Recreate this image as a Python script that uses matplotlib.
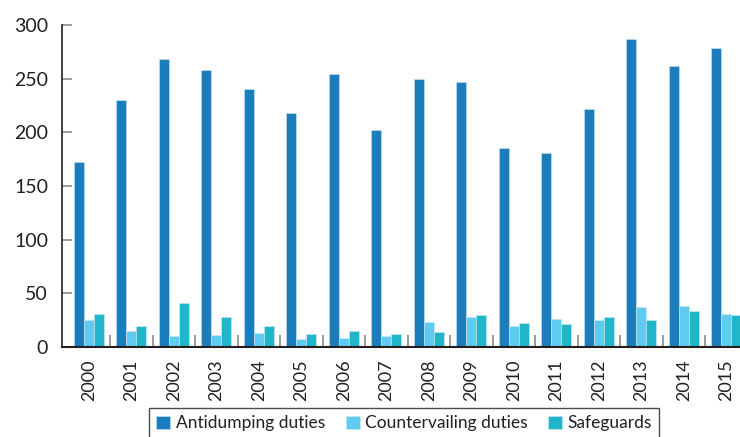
import matplotlib
matplotlib.use("Agg")
import matplotlib.pyplot as plt
import numpy as np

plt.rcParams["font.family"] = ["Lato", "DejaVu Sans"]

years = [str(y) for y in range(2000, 2016)]
antidumping = [172, 230, 268, 258, 240, 218, 254, 202,
               250, 247, 185, 181, 222, 287, 262, 279]
countervailing = [25, 15, 10, 11, 13, 7, 8, 10,
                  23, 28, 20, 26, 25, 37, 38, 31]
safeguards = [31, 20, 41, 28, 20, 12, 15, 12,
              14, 30, 22, 21, 28, 25, 34, 30]

series = [("Antidumping duties", antidumping, "#1b7dbb"),
          ("Countervailing duties", countervailing, "#5fcbf1"),
          ("Safeguards", safeguards, "#1fb6c9")]

fig = plt.figure(figsize=(7.4, 4.37), dpi=100)
ax = fig.add_axes([62 / 740, 90 / 437, 678 / 740, 322 / 437])

x = np.arange(len(years))
w = 0.235
for k, (label, vals, col) in enumerate(series):
    ax.bar(x + (k - 1) * w, vals, w, color=col, label=label,
           edgecolor="#cfe6f3", linewidth=0.4)

ax.set_xlim(-0.63, 15.32)
ax.set_ylim(0, 300)
ax.set_yticks([0, 50, 100, 150, 200, 250, 300])
ax.tick_params(axis="y", direction="in", length=7, width=1.2, color="#8a8a8a",
               labelsize=14, labelcolor="#231f20", pad=10)

ax.set_xticks(x)
ax.set_xticklabels(years, rotation=90, fontsize=13, color="#231f20")
ax.set_xticks(np.arange(0.5, 15, 1), minor=True)
ax.tick_params(axis="x", which="major", length=0, pad=9)
ax.tick_params(axis="x", which="minor", direction="in", length=8.5,
               width=1.2, color="#8a8a8a")

for s in ["top", "right"]:
    ax.spines[s].set_visible(False)
ax.spines["left"].set_color("#231f20")
ax.spines["bottom"].set_color("#231f20")
ax.spines["left"].set_linewidth(1.2)
ax.spines["bottom"].set_linewidth(1.5)

leg = fig.legend(loc="upper center", bbox_to_anchor=(0.546, 1 - 399 / 437),
                 ncol=3, fontsize=12.5, frameon=True, fancybox=False,
                 handlelength=0.8, handleheight=0.8, handletextpad=0.3,
                 columnspacing=1.2, borderpad=0.45)
leg.get_frame().set_edgecolor("#231f20")
leg.get_frame().set_linewidth(1.0)
for t in leg.get_texts():
    t.set_color("#231f20")

fig.savefig("out.png", dpi=100)
